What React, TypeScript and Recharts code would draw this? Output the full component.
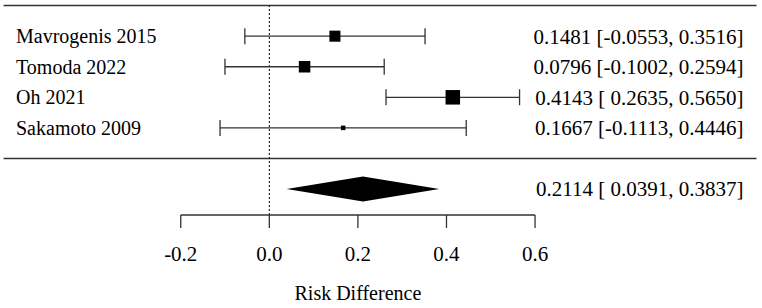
import {
  ComposedChart,
  Scatter,
  ErrorBar,
  XAxis,
  YAxis,
  ReferenceLine,
  ReferenceArea,
  ReferenceDot,
} from "recharts";

const studies = ["Mavrogenis 2015", "Tomoda 2022", "Oh 2021", "Sakamoto 2009"];
const estimates = [0.1481, 0.0796, 0.4143, 0.1667];
const ciLower = [-0.0553, -0.1002, 0.2635, -0.1113];
const ciUpper = [0.3516, 0.2594, 0.565, 0.4446];
const weights = [26.6, 27.7, 34.9, 10.8];

const pooledEstimate = 0.2114;
const pooledLower = 0.0391;
const pooledUpper = 0.3837;

const xTicks = [-0.2, 0, 0.2, 0.4, 0.6];
const axisTitle = "Risk Difference";

// layout
const FONT = "'Liberation Serif', 'Times New Roman', serif";
const FS = 20;
const FS_NUM = 21; // digit strings render a bit wider in the original
const LINE = "#333";
const X_DOMAIN: [number, number] = [-0.6, 1.1];
const Y_MAX = 6.85;
const SEP_ROW = studies.length + 1;
const POOLED_ROW = studies.length + 2;
const MAX_BOX = 14.5;

// lower bound padded with a space when positive, like metafor's aligned output
const fmtLo = (v: number) => (v < 0 ? v.toFixed(4) : " " + v.toFixed(4));
const ciText = (e: number, lo: number, hi: number) =>
  `${e.toFixed(4)} [${fmtLo(lo)}, ${hi.toFixed(4)}]`;

const rows = studies.map((name, i) => ({
  name,
  x: estimates[i],
  y: i + 1,
  err: [estimates[i] - ciLower[i], ciUpper[i] - estimates[i]],
  w: weights[i],
}));
const maxW = Math.max(...weights);

const Box = (p: any) => {
  const s = (MAX_BOX * p.payload.w) / maxW;
  return <rect x={p.cx - s / 2} y={p.cy - s / 2} width={s} height={s} fill="#000" />;
};

const Diamond = (p: any) => {
  const f = (pooledEstimate - pooledLower) / (pooledUpper - pooledLower);
  const cx = p.x + p.width * f;
  const cy = p.y + p.height / 2;
  const pts = [
    [p.x, cy],
    [cx, p.y],
    [p.x + p.width, cy],
    [cx, p.y + p.height],
  ]
    .map((q) => q.join(","))
    .join(" ");
  return <polygon points={pts} fill="#000" />;
};

const textLabel = (
  text: string,
  anchor: "start" | "end" | "middle",
  dx: number,
  dy: number,
  size = FS
) =>
  (p: any) => {
    const vb = p.viewBox ?? p;
    return (
      <text
        x={vb.x + dx}
        y={vb.y + dy}
        dy="0.35em"
        textAnchor={anchor}
        fontSize={size}
        fill="#000"
        fontFamily={FONT}
        style={{ whiteSpace: "pre" }}
      >
        {text}
      </text>
    );
  };

export default function App() {
  return (
    <div style={{ position: "absolute", left: 0, top: 0, fontFamily: FONT }}>
      <ComposedChart
        width={762}
        height={308}
        margin={{ top: 5.6, right: 5.5, bottom: 0, left: 3.6 }}
      >
        <XAxis
          type="number"
          dataKey="x"
          domain={X_DOMAIN}
          allowDataOverflow
          ticks={xTicks}
          interval={0}
          tickFormatter={(v: number) => v.toFixed(1)}
          axisLine={false}
          tickLine={{ stroke: LINE, strokeWidth: 1.3 }}
          tickSize={13}
          tickMargin={18}
          height={93}
          tick={{ fontSize: FS_NUM, fill: "#000", fontFamily: FONT }}
        />
        <YAxis type="number" dataKey="y" domain={[0, Y_MAX]} reversed hide allowDataOverflow />

        <ReferenceLine y={0} stroke={LINE} strokeWidth={1.5} ifOverflow="visible" />
        <ReferenceLine y={SEP_ROW} stroke={LINE} strokeWidth={1.5} />
        <ReferenceLine x={0} stroke="#000" strokeWidth={1} strokeDasharray="2 2" />
        <ReferenceLine
          segment={[
            { x: xTicks[0], y: Y_MAX },
            { x: xTicks[xTicks.length - 1], y: Y_MAX },
          ]}
          stroke={LINE}
          strokeWidth={1.3}
          ifOverflow="visible"
        />

        <Scatter data={rows} shape={Box} isAnimationActive={false}>
          <ErrorBar dataKey="err" direction="x" width={8} stroke={LINE} strokeWidth={1.3} />
        </Scatter>

        <ReferenceArea
          x1={pooledLower}
          x2={pooledUpper}
          y1={POOLED_ROW - 0.41}
          y2={POOLED_ROW + 0.41}
          shape={Diamond}
        />

        {rows.map((r, i) => (
          <ReferenceDot
            key={"n" + i}
            x={X_DOMAIN[0]}
            y={r.y}
            r={0}
            ifOverflow="visible"
            label={textLabel(r.name, "start", 12.4, 0)}
          />
        ))}
        {rows.map((r, i) => (
          <ReferenceDot
            key={"c" + i}
            x={X_DOMAIN[1]}
            y={r.y}
            r={0}
            ifOverflow="visible"
            label={textLabel(
              ciText(estimates[i], ciLower[i], ciUpper[i]),
              "end",
              -13,
              0,
              FS_NUM
            )}
          />
        ))}
        <ReferenceDot
          x={X_DOMAIN[1]}
          y={POOLED_ROW}
          r={0}
          ifOverflow="visible"
          label={textLabel(
            ciText(pooledEstimate, pooledLower, pooledUpper),
            "end",
            -13,
            0,
            FS_NUM
          )}
        />
        <ReferenceDot
          x={(xTicks[0] + xTicks[xTicks.length - 1]) / 2}
          y={Y_MAX}
          r={0}
          ifOverflow="visible"
          label={textLabel(axisTitle, "middle", 0, 78)}
        />
      </ComposedChart>
    </div>
  );
}
